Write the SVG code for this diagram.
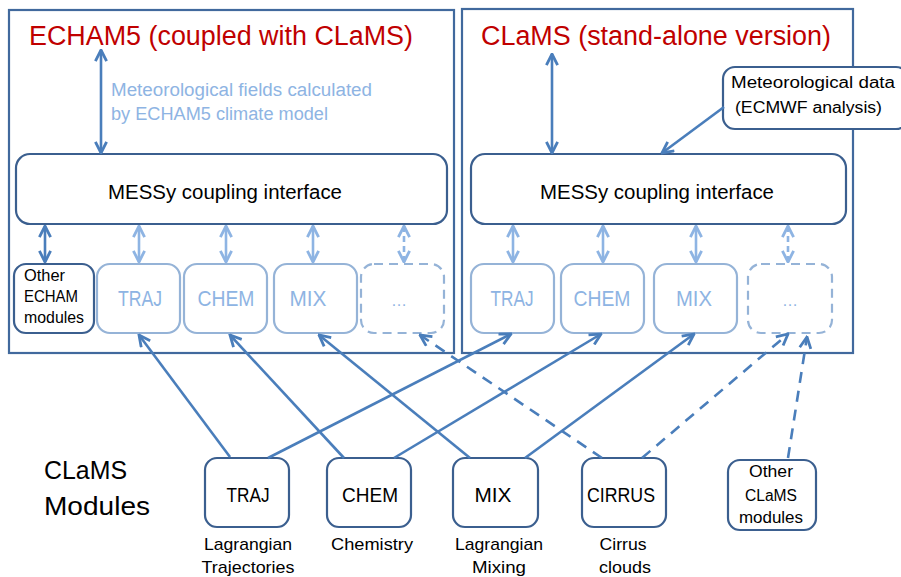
<svg xmlns="http://www.w3.org/2000/svg" width="901" height="577" viewBox="0 0 901 577">
<style>
text{font-family:"Liberation Sans",Arial,sans-serif;}
.outer{fill:none;stroke:#41699d;stroke-width:2.2;}
.dark{fill:#fff;stroke:#3b5f8f;stroke-width:2.2;}
.light{fill:#fff;stroke:#95b3d7;stroke-width:2.2;}
.lightdash{fill:#fff;stroke:#95b3d7;stroke-width:2.2;stroke-dasharray:9 6;}
.title{fill:#c00000;font-size:27px;}
.lt{fill:#8eb4e3;}
.bk{fill:#000;}
.c{stroke:#4a7ebb;stroke-width:2.6;fill:none;}
.cl{stroke:#8eb4e3;stroke-width:2.6;fill:none;}
.dash{stroke-dasharray:11 8;}
.sdash{stroke-dasharray:6 4;}
</style>
<defs>
<marker id="ad" viewBox="0 0 10 10" refX="9" refY="5" markerWidth="14" markerHeight="14" markerUnits="userSpaceOnUse" orient="auto-start-reverse">
<path d="M1,1 L9,5 L1,9" fill="none" stroke="#4a7ebb" stroke-width="2"/>
</marker>
<marker id="al" viewBox="0 0 10 10" refX="9" refY="5" markerWidth="14" markerHeight="14" markerUnits="userSpaceOnUse" orient="auto-start-reverse">
<path d="M1,1 L9,5 L1,9" fill="none" stroke="#8eb4e3" stroke-width="2"/>
</marker>
</defs>
<rect width="901" height="577" fill="#fff"/>

<g id="echam-frame">
<rect class="outer" x="9" y="10" width="445" height="343"/>
<text class="title" x="29" y="45" textLength="384" lengthAdjust="spacingAndGlyphs">ECHAM5 (coupled with CLaMS)</text>
<text class="lt" x="111" y="96" font-size="18" textLength="261" lengthAdjust="spacingAndGlyphs">Meteorological fields calculated</text>
<text class="lt" x="111" y="120" font-size="18" textLength="217" lengthAdjust="spacingAndGlyphs">by ECHAM5 climate model</text>
</g>
<g id="clams-frame">
<rect class="outer" x="462" y="9" width="391" height="344"/>
<text class="title" x="481" y="45" textLength="350" lengthAdjust="spacingAndGlyphs">CLaMS (stand-alone version)</text>
</g>

<g id="messy-left">
<rect class="dark" x="16" y="154" width="431" height="70" rx="14"/>
<text class="bk" x="225" y="199" font-size="20" text-anchor="middle" textLength="234" lengthAdjust="spacingAndGlyphs">MESSy coupling interface</text>
</g>
<g id="messy-right">
<rect class="dark" x="471" y="154" width="375" height="70" rx="14"/>
<text class="bk" x="657" y="199" font-size="20" text-anchor="middle" textLength="234" lengthAdjust="spacingAndGlyphs">MESSy coupling interface</text>
</g>

<g id="other-echam">
<rect class="dark" x="14" y="264" width="80" height="69" rx="12"/>
<text class="bk" x="24" y="281" font-size="16" textLength="41" lengthAdjust="spacingAndGlyphs">Other</text>
<text class="bk" x="24" y="302" font-size="16" textLength="54" lengthAdjust="spacingAndGlyphs">ECHAM</text>
<text class="bk" x="24" y="323" font-size="16" textLength="60" lengthAdjust="spacingAndGlyphs">modules</text>
</g>
<g id="e-traj">
<rect class="light" x="97" y="264" width="83" height="69" rx="13"/>
<text class="lt" x="140" y="306" font-size="22" text-anchor="middle" textLength="44" lengthAdjust="spacingAndGlyphs">TRAJ</text>
</g>
<g id="e-chem">
<rect class="light" x="184" y="264" width="83" height="69" rx="13"/>
<text class="lt" x="226" y="306" font-size="22" text-anchor="middle" textLength="57" lengthAdjust="spacingAndGlyphs">CHEM</text>
</g>
<g id="e-mix">
<rect class="light" x="274" y="264" width="83" height="69" rx="13"/>
<text class="lt" x="308" y="306" font-size="22" text-anchor="middle" textLength="37" lengthAdjust="spacingAndGlyphs">MIX</text>
</g>
<g id="e-more">
<rect class="lightdash" x="361" y="264" width="83" height="69" rx="13"/>
<text class="lt" x="399" y="306" font-size="16" text-anchor="middle">…</text>
</g>

<g id="c-traj">
<rect class="light" x="471" y="264" width="83" height="69" rx="13"/>
<text class="lt" x="512" y="306" font-size="22" text-anchor="middle" textLength="43" lengthAdjust="spacingAndGlyphs">TRAJ</text>
</g>
<g id="c-chem">
<rect class="light" x="561" y="264" width="83" height="69" rx="13"/>
<text class="lt" x="602" y="306" font-size="22" text-anchor="middle" textLength="57" lengthAdjust="spacingAndGlyphs">CHEM</text>
</g>
<g id="c-mix">
<rect class="light" x="654" y="264" width="83" height="69" rx="13"/>
<text class="lt" x="694" y="306" font-size="22" text-anchor="middle" textLength="36" lengthAdjust="spacingAndGlyphs">MIX</text>
</g>
<g id="c-more">
<rect class="lightdash" x="748" y="264" width="84" height="69" rx="13"/>
<text class="lt" x="790" y="306" font-size="16" text-anchor="middle">…</text>
</g>

<g id="met-data">
<rect class="dark" x="723" y="67" width="185" height="62" rx="12"/>
<text class="bk" x="731" y="88" font-size="16" textLength="164" lengthAdjust="spacingAndGlyphs">Meteorological data</text>
<text class="bk" x="735" y="113" font-size="16" textLength="147" lengthAdjust="spacingAndGlyphs">(ECMWF analysis)</text>
</g>

<g id="clams-modules-label">
<text class="bk" x="44" y="479" font-size="26" textLength="83" lengthAdjust="spacingAndGlyphs">CLaMS</text>
<text class="bk" x="44" y="515" font-size="26" textLength="106" lengthAdjust="spacingAndGlyphs">Modules</text>
</g>

<g id="m-traj">
<rect class="dark" x="205" y="458" width="84" height="69" rx="12"/>
<text class="bk" x="248" y="502" font-size="21" text-anchor="middle" textLength="43" lengthAdjust="spacingAndGlyphs">TRAJ</text>
<text class="bk" x="248" y="550" font-size="17" text-anchor="middle" textLength="88" lengthAdjust="spacingAndGlyphs">Lagrangian</text>
<text class="bk" x="248" y="573" font-size="17" text-anchor="middle" textLength="93" lengthAdjust="spacingAndGlyphs">Trajectories</text>
</g>
<g id="m-chem">
<rect class="dark" x="327" y="458" width="84" height="69" rx="12"/>
<text class="bk" x="370" y="502" font-size="21" text-anchor="middle" textLength="56" lengthAdjust="spacingAndGlyphs">CHEM</text>
<text class="bk" x="372" y="550" font-size="17" text-anchor="middle" textLength="82" lengthAdjust="spacingAndGlyphs">Chemistry</text>
</g>
<g id="m-mix">
<rect class="dark" x="453" y="458" width="85" height="69" rx="12"/>
<text class="bk" x="493" y="502" font-size="21" text-anchor="middle" textLength="37" lengthAdjust="spacingAndGlyphs">MIX</text>
<text class="bk" x="499" y="550" font-size="17" text-anchor="middle" textLength="88" lengthAdjust="spacingAndGlyphs">Lagrangian</text>
<text class="bk" x="499" y="573" font-size="17" text-anchor="middle" textLength="54" lengthAdjust="spacingAndGlyphs">Mixing</text>
</g>
<g id="m-cirrus">
<rect class="dark" x="582" y="458" width="84" height="69" rx="12"/>
<text class="bk" x="621" y="502" font-size="21" text-anchor="middle" textLength="68" lengthAdjust="spacingAndGlyphs">CIRRUS</text>
<text class="bk" x="623" y="550" font-size="17" text-anchor="middle" textLength="47" lengthAdjust="spacingAndGlyphs">Cirrus</text>
<text class="bk" x="625" y="573" font-size="17" text-anchor="middle" textLength="52" lengthAdjust="spacingAndGlyphs">clouds</text>
</g>
<g id="m-other">
<rect class="dark" x="728" y="460" width="88" height="70" rx="12"/>
<text class="bk" x="771" y="477" font-size="16" text-anchor="middle" textLength="44" lengthAdjust="spacingAndGlyphs">Other</text>
<text class="bk" x="771" y="501" font-size="16" text-anchor="middle" textLength="52" lengthAdjust="spacingAndGlyphs">CLaMS</text>
<text class="bk" x="771" y="523" font-size="16" text-anchor="middle" textLength="64" lengthAdjust="spacingAndGlyphs">modules</text>
</g>

<g id="connectors">
<line class="c" x1="101" y1="50" x2="101" y2="153" marker-start="url(#ad)" marker-end="url(#ad)"/>
<line class="c" x1="552" y1="54" x2="552" y2="153" marker-start="url(#ad)" marker-end="url(#ad)"/>
<line class="c" x1="724" y1="107" x2="662" y2="153" marker-end="url(#ad)"/>

<line class="c" x1="45" y1="226" x2="45" y2="262" marker-start="url(#ad)" marker-end="url(#ad)"/>
<line class="cl" x1="139" y1="226" x2="139" y2="262" marker-start="url(#al)" marker-end="url(#al)"/>
<line class="cl" x1="226" y1="226" x2="226" y2="262" marker-start="url(#al)" marker-end="url(#al)"/>
<line class="cl" x1="313" y1="226" x2="313" y2="262" marker-start="url(#al)" marker-end="url(#al)"/>
<line class="cl sdash" x1="404" y1="226" x2="404" y2="262" marker-start="url(#al)" marker-end="url(#al)"/>
<line class="cl" x1="513" y1="226" x2="513" y2="262" marker-start="url(#al)" marker-end="url(#al)"/>
<line class="cl" x1="603" y1="226" x2="603" y2="262" marker-start="url(#al)" marker-end="url(#al)"/>
<line class="cl" x1="696" y1="226" x2="696" y2="262" marker-start="url(#al)" marker-end="url(#al)"/>
<line class="cl sdash" x1="788" y1="226" x2="788" y2="262" marker-start="url(#al)" marker-end="url(#al)"/>

<line class="c" x1="230" y1="457" x2="139" y2="335" marker-end="url(#ad)"/>
<line class="c" x1="268" y1="458" x2="511" y2="334" marker-end="url(#ad)"/>
<line class="c" x1="344" y1="458" x2="230" y2="335" marker-end="url(#ad)"/>
<line class="c" x1="394" y1="458" x2="601" y2="334" marker-end="url(#ad)"/>
<line class="c" x1="470" y1="458" x2="319" y2="335" marker-end="url(#ad)"/>
<line class="c" x1="525" y1="458" x2="694" y2="334" marker-end="url(#ad)"/>
<line class="c dash" x1="602" y1="458" x2="420" y2="335" marker-end="url(#ad)"/>
<line class="c dash" x1="642" y1="458" x2="788" y2="334" marker-end="url(#ad)"/>
<line class="c dash" x1="788" y1="458" x2="807" y2="337" marker-end="url(#ad)"/>
</g>
</svg>
